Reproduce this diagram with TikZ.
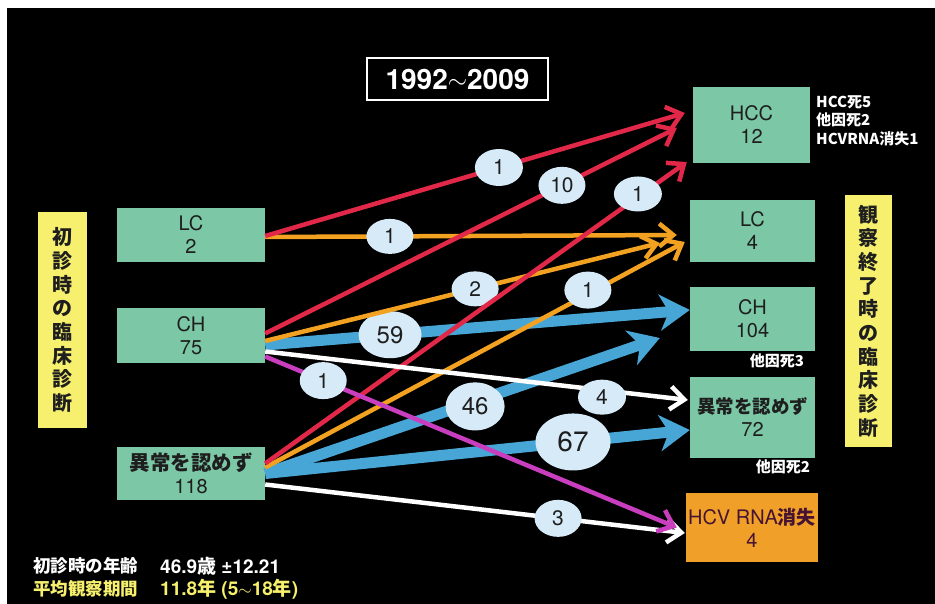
\documentclass[tikz,border=0pt]{standalone}
\usepackage{fontspec}
\setmainfont{TeX Gyre Heros}
\newfontfamily\jp{Noto Sans CJK JP}
\usetikzlibrary{arrows.meta,calc,shapes.geometric}
\definecolor{boxgreen}{RGB}{124,200,166}
\definecolor{labyellow}{RGB}{246,240,110}
\definecolor{boxorange}{RGB}{240,160,40}
\definecolor{cred}{RGB}{226,40,72}
\definecolor{corange}{RGB}{242,162,32}
\definecolor{cblue}{RGB}{72,166,214}
\definecolor{cmag}{RGB}{200,62,190}
\definecolor{ellfill}{RGB}{214,234,248}
\definecolor{txtdark}{RGB}{30,30,30}
\tikzset{
  gbox/.style={rectangle, fill=boxgreen, inner sep=0pt, align=center, text=txtdark,
    font=\fontsize{20}{23}\selectfont},
  ylab/.style={rectangle, fill=labyellow, inner sep=0pt, align=center, text=txtdark,
    font=\jp\fontsize{20}{23.7}\selectfont\bfseries},
  thinarrow/.style={line width=4.5pt, -{Straight Barb[length=14pt,width=23pt,line width=4.5pt]}},
  bluearrow/.style={line width=11pt, draw=cblue, -{Stealth[length=30pt,width=36pt,inset=9pt]}},
  num/.style={ellipse, fill=ellfill, inner sep=0pt, text=txtdark, font=\fontsize{21}{21}\selectfont},
  note/.style={text=white, font=\jp\fontsize{15}{18.5}\selectfont\bfseries, inner sep=0pt}
}
\begin{document}
\begin{tikzpicture}[x=1pt,y=-1pt]
\useasboundingbox (0,0) rectangle (935,604);
\fill[white] (0,0) rectangle (935,604);
\fill[black] (7,8) rectangle (935,604);

% title
\node[draw=white, line width=1.5pt, minimum width=181pt, minimum height=42pt, text=white,
  font=\fontsize{28}{28}\selectfont\bfseries] (title) at (457.5,79) {1992\raisebox{1pt}{\(\sim\)}2009};

% side labels
\node[ylab, minimum width=49pt, minimum height=216pt] (leftlab) at (62.5,320)
  {初\\診\\時\\の\\臨\\床\\診\\断};
\node[ylab, minimum width=47pt, minimum height=252pt] (rightlab) at (868.5,321)
  {観\\察\\終\\了\\時\\の\\臨\\床\\診\\断};

% left boxes
\node[gbox, minimum width=148pt, minimum height=54pt] (lc) at (191,235) {LC\\2};
\node[gbox, minimum width=148pt, minimum height=55pt] (ch) at (191,335.5) {CH\\75};
\node[gbox, minimum width=148pt, minimum height=53pt] (nn) at (191,473.5) {{\jp\bfseries\fontsize{20.5}{23}\selectfont 異常を認めず}\\118};

% right boxes
\node[gbox, minimum width=117pt, minimum height=76pt] (hcc) at (751.5,125) {HCC\\12};
\node[gbox, minimum width=125pt, minimum height=62pt] (lc4) at (752.5,231) {LC\\4};
\node[gbox, minimum width=125pt, minimum height=64pt] (ch104) at (752.5,319) {CH\\104};
\node[gbox, minimum width=125pt, minimum height=81pt] (nn72) at (752.5,417.5) {{\jp\bfseries\fontsize{18.5}{23}\selectfont 異常を認めず}\\72};
\node[gbox, fill=boxorange, text={rgb,255:red,70;green,20;blue,50}, minimum width=132pt, minimum height=69pt] (hcv) at (752,527.5) {HCV RNA{\jp\bfseries\fontsize{19}{23}\selectfont 消失}\\4};

% notes
\node[note, anchor=north west, align=left] (hccnote) at (816,95) {HCC死5\\他因死2\\HCVRNA消失1};
\node[note] (chnote) at (777,361) {他因死3};
\node[note] (nnnote) at (783,467) {他因死2};

% bottom text
\node[note, anchor=west, font=\jp\fontsize{17.5}{17.5}\selectfont\bfseries] (age) at (33,566) {初診時の年齢};
\node[note, anchor=west, font=\fontsize{19}{19}\selectfont\bfseries] (agev) at (160,566) {46.9{\jp 歳} ±12.21};
\node[note, anchor=west, text=labyellow, font=\jp\fontsize{17.5}{17.5}\selectfont\bfseries] (per) at (33,589) {平均観察期間};
\node[note, anchor=west, text=labyellow, font=\fontsize{19}{19}\selectfont\bfseries] (perv) at (160,589) {11.8{\jp 年} (5\(\sim\)18{\jp 年})};

% connectors
\draw[bluearrow] ($(ch.east)+(0,9.5)$) -- ($(ch104.west)+(0,-9)$)
  node[num, pos=0.294, minimum width=63pt, minimum height=47pt, font=\fontsize{24}{24}\selectfont] (l59) {59};
\draw[bluearrow] (nn.east) -- ($(ch104.west)+(-30,19)$)
  node[num, pos=0.532, yshift=-5pt, minimum width=59pt, minimum height=48pt, font=\fontsize{24}{24}\selectfont] (l46) {46};
\draw[bluearrow] (nn.east) -- ($(nn72.west)+(0,12.5)$)
  node[num, pos=0.725, minimum width=75pt, minimum height=57pt, font=\fontsize{28}{28}\selectfont] (l67) {67};

\draw[thinarrow, corange] ($(lc.east)+(0,2)$) -- ($(lc4.west)+(-13,4)$)
  node[num, pos=0.303, minimum width=47pt, minimum height=35pt] (l1b) {1};
\draw[thinarrow, corange] ($(ch.east)+(0,5.5)$) -- ($(lc4.west)+(-30,12)$)
  node[num, pos=0.532, minimum width=47pt, minimum height=35pt] (l2) {2};
\draw[thinarrow, corange] ($(nn.east)+(0,-6)$) -- ($(lc4.west)+(-5,11)$)
  node[num, pos=0.769, yshift=4pt, minimum width=47pt, minimum height=37pt] (l1e) {1};

\draw[thinarrow, cred] ($(lc.east)+(0,1)$) -- ($(hcc.west)+(-8,-12)$)
  node[num, pos=0.557, minimum width=48pt, minimum height=37pt] (l1a) {1};
\draw[thinarrow, cred] ($(ch.east)+(0,-2)$) -- ($(hcc.west)+(-16,3)$)
  node[num, pos=0.721, minimum width=47pt, minimum height=37pt] (l10) {10};
\draw[thinarrow, cred] ($(nn.east)+(0,-10)$) -- ($(hcc.west)+(-6,37)$)
  node[num, pos=0.884, yshift=3pt, minimum width=48pt, minimum height=35pt] (l1c) {1};

\draw[thinarrow, white] ($(ch.east)+(0,16)$) -- ($(nn72.west)+(-2,-17.5)$)
  node[num, pos=0.797, yshift=-7pt, minimum width=48pt, minimum height=35pt] (l4) {4};
\draw[thinarrow, white] ($(nn.east)+(0,11)$) -- ($(hcv.west)+(-1,5.5)$)
  node[num, pos=0.698, minimum width=47pt, minimum height=37pt] (l3) {3};

\draw[thinarrow, cmag] ($(ch.east)+(0,21)$) -- ($(hcv.west)+(-9,0)$)
  node[num, pos=0.141, minimum width=47pt, minimum height=37pt] (l1d) {1};
\end{tikzpicture}
\end{document}
